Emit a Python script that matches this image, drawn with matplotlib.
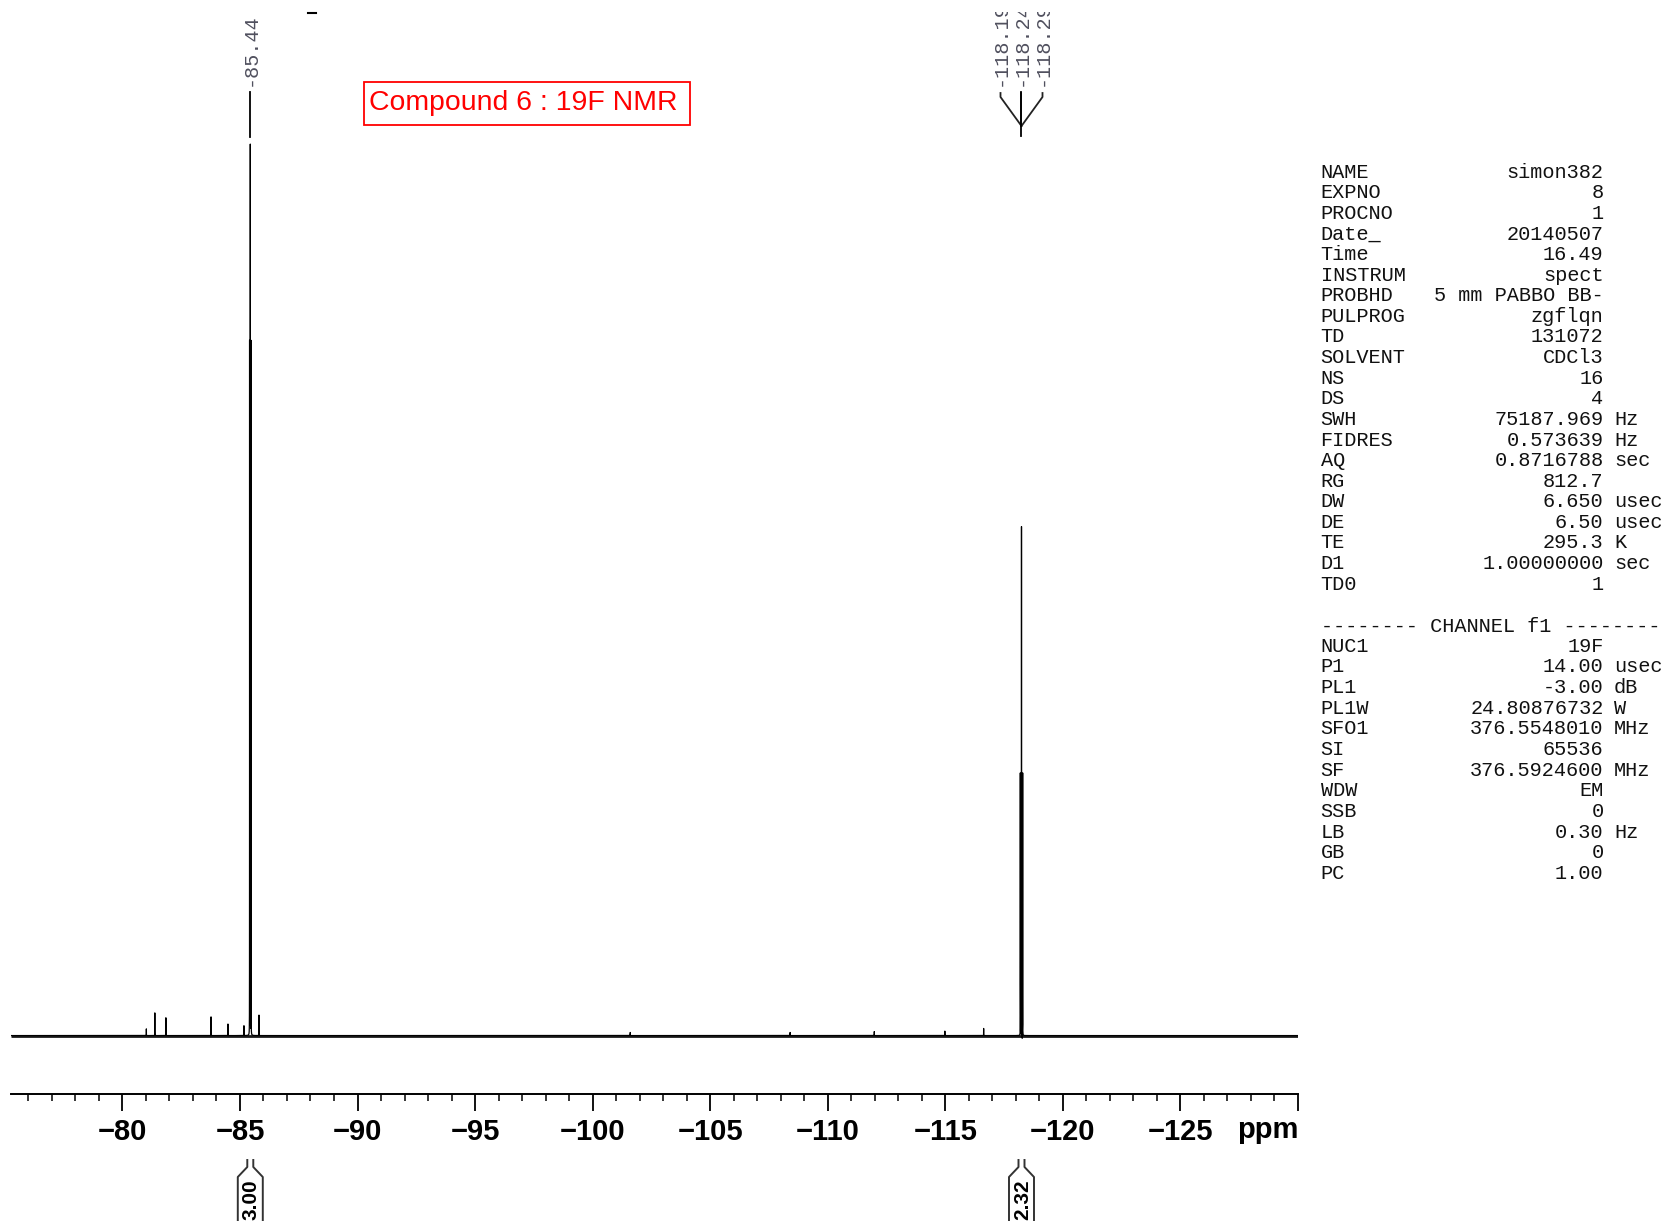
import numpy as np
import matplotlib
matplotlib.use('Agg')
import matplotlib.pyplot as plt
from matplotlib.lines import Line2D
from matplotlib.patches import Rectangle
from matplotlib.transforms import Affine2D

W, H = 1674, 1221

# 19F peak list: shift (ppm) and relative intensity
peak_ppm = [-81.02, -81.38, -81.85, -83.77, -84.49, -85.17, -85.41, -85.44, -85.47,
            -85.46, -85.81, -101.6, -108.4, -111.98, -114.98, -116.63,
            -118.19, -118.24, -118.29, -118.27]
peak_int = [0.75, 2.55, 2.0, 2.1, 1.3, 1.1, 78.0, 100.0, 78.0,
            -0.7, 2.3, 0.35, 0.35, 0.45, 0.5, 0.8,
            29.5, 57.2, 29.5, -0.5]

# picked peaks written above the spectrum
pick_groups = [[-85.44], [-118.19, -118.24, -118.29]]

# integrals written below the scale
integral_ppm = [-85.44, -118.24]
integral_val = ['3.00', '2.32']

# acquisition / processing parameters
par_names = ['NAME', 'EXPNO', 'PROCNO', 'Date_', 'Time', 'INSTRUM', 'PROBHD', 'PULPROG',
             'TD', 'SOLVENT', 'NS', 'DS', 'SWH', 'FIDRES', 'AQ', 'RG', 'DW', 'DE',
             'TE', 'D1', 'TD0']
par_values = ['simon382', '8', '1', '20140507', '16.49', 'spect', '5 mm PABBO BB-',
              'zgflqn', '131072', 'CDCl3', '16', '4', '75187.969', '0.573639',
              '0.8716788', '812.7', '6.650', '6.50', '295.3', '1.00000000', '1']
par_units = ['', '', '', '', '', '', '', '', '', '', '', '', 'Hz', 'Hz', 'sec', '',
             'usec', 'usec', 'K', 'sec', '']
ch_names = ['NUC1', 'P1', 'PL1', 'PL1W', 'SFO1', 'SI', 'SF', 'WDW', 'SSB', 'LB', 'GB', 'PC']
ch_values = ['19F', '14.00', '-3.00', '24.80876732', '376.5548010', '65536',
             '376.5924600', 'EM', '0', '0.30', '0', '1.00']
ch_units = ['', 'usec', 'dB', 'W', 'MHz', '', 'MHz', '', '', 'Hz', '', '']

xmin, xmax = -75.25, -130.0
major_ticks = np.arange(-80, -131, -5)
minor_ticks = np.arange(-76, -131, -1)

fig = plt.figure(figsize=(W / 100, H / 100), dpi=100)
# pixel coordinates, y measured downward from the top edge
pix = Affine2D().scale(1, -1).translate(0, H)

ax_l, ax_r, ax_t, ax_b = 10.7, 1298.0, 12.0, 1094.0
ax = fig.add_axes([ax_l / W, 1 - ax_b / H, (ax_r - ax_l) / W, (ax_b - ax_t) / H])
ax.set_xlim(xmin, xmax)
ax.set_ylim(-6.57, 115.1)


def ppm_to_px(p):
    return ax_l + (p - xmin) / (xmax - xmin) * (ax_r - ax_l)


# spectrum as a sum of narrow lorentzians, sampled finely around each line
pieces = [np.linspace(xmin, xmax, 60000)]
for p in peak_ppm:
    pieces.append(np.linspace(p - 0.04, p + 0.04, 801))
grid = np.sort(np.concatenate(pieces))[::-1]
hw = 0.0012
spec = np.zeros_like(grid)
for p, a in zip(peak_ppm, peak_int):
    spec += a * hw ** 2 / ((grid - p) ** 2 + hw ** 2)
ax.plot([xmin, xmax], [0, 0], color='#1a1a1a', lw=2.0, solid_capstyle='butt')
ax.plot(grid, spec, color='black', lw=0.9)

for s in ['top', 'left', 'right']:
    ax.spines[s].set_visible(False)
ax.spines['bottom'].set_linewidth(1.4)
ax.set_yticks([])
ax.set_xticks(major_ticks)
ax.set_xticks(minor_ticks, minor=True)
ax.set_xticklabels(['\u2212%d' % abs(v) for v in major_ticks[:-1]] + [''])
ax.tick_params(axis='x', which='major', direction='out', length=12, width=1.3, pad=5.5)
ax.tick_params(axis='x', which='minor', direction='out', length=4.7, width=1.1)
for lab in ax.get_xticklabels():
    lab.set_fontfamily('Liberation Sans')
    lab.set_fontweight('bold')
    lab.set_fontsize(21)
ax.text(ax_r, 1129.5, 'ppm', transform=pix, ha='right', va='center',
        family='Liberation Sans', weight='bold', size=21)

# peak picking labels
lab_color = '#50505e'
for group in pick_groups:
    centre = ppm_to_px(np.mean(group))
    n = len(group)
    xs = [centre + (i - (n - 1) / 2) * 21 for i in range(n)]
    for x, p in zip(xs, group):
        ax.text(x, 86, '%.2f' % p, transform=pix, rotation=90, ha='center', va='bottom',
                family='Liberation Mono', size=14.5, color=lab_color, clip_on=True)
    if n == 1:
        fig.add_artist(Line2D([centre, centre], [92, 137], transform=pix, color='black', lw=1.3))
    else:
        for x in xs:
            fig.add_artist(Line2D([x, x, centre], [93, 97, 126], transform=pix,
                                  color='#222222', lw=1.3))
        fig.add_artist(Line2D([centre, centre], [92, 136], transform=pix, color='black', lw=1.3))

fig.add_artist(Line2D([308, 316], [13, 13], transform=pix, color='black', lw=1.5))

# integral marks
for p, v in zip(integral_ppm, integral_val):
    c = ppm_to_px(p)
    for dx in (-3, 3):
        s = 1 if dx > 0 else -1
        fig.add_artist(Line2D([c + dx, c + dx, c + s * 12.5, c + s * 12.5],
                              [1160, 1167, 1177, 1230], transform=pix,
                              color='#333333', lw=1.4))
    fig.text(c + 1, 1179, v, transform=pix, rotation=90, ha='center', va='top',
             family='Liberation Sans', weight='bold', size=15, color='black')

# title box
fig.add_artist(Rectangle((364, 125), 326, -43, transform=pix, fill=False,
                         edgecolor='red', lw=1.3))
fig.text(369, 110, 'Compound 6 : 19F NMR', transform=pix, ha='left', va='baseline',
         family='Liberation Sans', size=20.4, color='red')

# parameter listing
mono = dict(family='Liberation Mono', size=14.6, color='#111111')
x_name, x_val, x_unit = 1320.6, 1603.5, 1614.0
for i, (nm, vl, un) in enumerate(zip(par_names, par_values, par_units)):
    y = 177.7 + i * 20.6
    fig.text(x_name, y, nm, transform=pix, ha='left', va='baseline', **mono)
    fig.text(x_val, y, vl, transform=pix, ha='right', va='baseline', **mono)
    if un:
        fig.text(x_unit, y, un, transform=pix, ha='left', va='baseline', **mono)
fig.text(x_name, 632.5, '-------- CHANNEL f1 --------', transform=pix, ha='left',
         va='baseline', **mono)
for i, (nm, vl, un) in enumerate(zip(ch_names, ch_values, ch_units)):
    y = 651.7 + i * 20.67
    fig.text(x_name, y, nm, transform=pix, ha='left', va='baseline', **mono)
    fig.text(x_val, y, vl, transform=pix, ha='right', va='baseline', **mono)
    if un:
        fig.text(x_unit, y, un, transform=pix, ha='left', va='baseline', **mono)

fig.savefig('out.png', dpi=100)
